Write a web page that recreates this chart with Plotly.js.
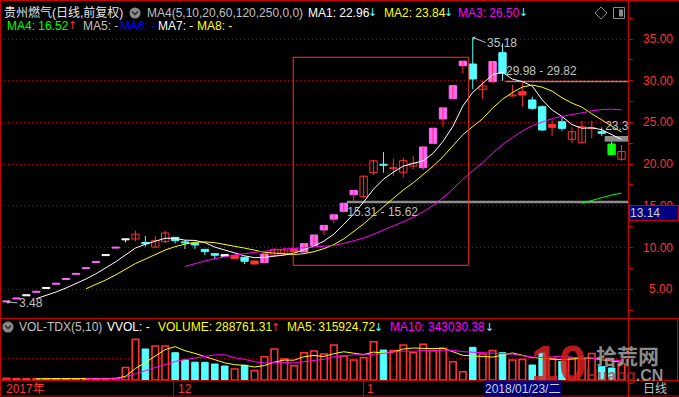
<!DOCTYPE html>
<html><head><meta charset="utf-8">
<script src="https://cdn.plot.ly/plotly-3.0.1.min.js"></script>
<style>html,body{margin:0;padding:0;background:#000;overflow:hidden}</style>
</head><body><div id="chart" style="width:679px;height:397px"></div>
<script>
// ---------------- data ----------------
const openP  = [3.48,3.83,4.21,4.63,5.09,5.60,6.16,6.78,7.46,8.21,9.03,9.93,10.92,11.02,10.60,10.05,10.70,11.22,10.62,10.50,9.78,9.26,9.14,8.66,8.83,8.02,8.18,9.06,9.22,9.78,9.46,10.26,12.10,13.40,14.34,16.33,16.09,18.97,19.98,19.45,19.02,19.77,19.57,22.49,25.41,27.84,31.80,32.00,28.97,29.88,33.36,28.17,28.28,27.69,26.88,24.41,25.08,22.97,22.56,24.25,23.88,22.41,20.58];
const highP  = [3.48,3.83,4.21,4.63,5.09,5.60,6.16,6.78,7.46,8.21,9.03,9.93,10.92,12.01,11.38,11.38,12.00,11.22,10.90,10.50,9.80,9.26,9.14,9.07,8.83,8.45,9.22,9.90,9.90,9.80,10.46,11.50,12.65,13.92,15.31,16.84,18.61,20.45,21.45,20.65,20.73,20.97,22.17,24.30,26.74,29.41,32.35,35.18,30.00,32.35,34.48,29.50,29.80,28.08,27.05,25.29,25.77,24.41,25.20,25.20,24.41,22.69,22.29];
const lowP   = [3.48,3.83,4.21,4.63,5.09,5.60,6.16,6.78,7.46,8.21,9.03,9.93,10.62,10.75,10.10,10.03,10.50,10.50,9.82,9.82,9.10,8.58,8.95,8.66,8.02,8.00,8.18,8.90,9.10,9.38,9.46,10.26,11.53,12.97,14.17,15.62,15.94,18.69,18.97,18.61,18.37,19.41,19.29,22.41,24.48,27.84,30.89,29.00,27.80,29.76,29.98,28.10,26.88,26.49,24.00,23.37,24.00,22.49,22.49,23.09,23.37,21.13,20.41];
const closeP = [3.48,3.83,4.21,4.63,5.09,5.60,6.16,6.78,7.46,8.21,9.03,9.93,10.92,11.60,10.45,10.85,11.74,10.82,10.55,10.30,9.50,9.07,8.96,9.05,8.35,8.38,9.22,9.78,9.70,9.51,10.46,11.50,12.65,13.92,15.31,16.84,18.55,20.40,19.86,19.57,20.41,20.10,22.05,24.30,26.74,29.41,32.35,30.20,29.36,32.30,30.89,28.20,28.68,26.69,24.09,24.77,24.29,23.88,24.48,24.33,23.69,21.13,21.50];
// candle colour kind: p=limit-up pink, w=white, r=red hollow, R=red solid, c=cyan, g=green
const candleKind = ['p','p','w','p','w','p','p','p','p','p','w','p','w','r','c','r','r','c','c','c','c','c','w','R','c','R','p','r','r','R','p','p','p','p','p','p','r','r','c','r','r','r','p','p','p','p','p','c','r','p','c','r','R','c','c','R','c','r','r','r','c','g','r'];
const ma5  = [null,null,null,3.86,4.25,4.67,5.14,5.65,6.22,6.84,7.53,8.28,9.11,9.94,10.39,10.75,11.11,11.09,10.88,10.85,10.58,10.05,9.69,9.39,9.00,8.78,8.81,8.96,9.09,9.32,9.73,10.19,10.76,11.61,12.77,14.04,15.45,17.00,18.19,19.04,19.76,20.07,20.40,21.29,22.72,24.52,26.97,28.60,29.61,30.72,31.02,30.19,29.89,29.35,27.71,26.49,25.70,24.74,24.30,24.35,24.13,23.50,22.96];
const ma10 = [null,null,null,null,null,null,null,null,5.04,5.55,6.10,6.71,7.38,8.08,8.61,9.14,9.70,10.10,10.41,10.62,10.67,10.58,10.39,10.14,9.93,9.68,9.43,9.33,9.24,9.16,9.26,9.50,9.86,10.35,11.04,11.89,12.82,13.88,14.90,15.91,16.90,17.76,18.70,19.74,20.88,22.14,23.52,24.50,25.45,26.72,27.77,28.58,29.24,29.48,29.22,28.75,27.95,27.32,26.83,26.03,25.31,24.60,23.84];
const ma20 = [null,null,null,null,null,null,null,null,null,null,null,null,null,null,null,null,null,null,7.73,8.08,8.38,8.65,8.89,9.11,9.27,9.41,9.56,9.71,9.83,9.89,9.96,10.04,10.13,10.24,10.49,10.79,11.13,11.60,12.07,12.53,13.08,13.63,14.28,15.04,15.96,17.01,18.17,19.19,20.17,21.31,22.34,23.17,23.97,24.61,25.05,25.45,25.73,25.91,26.14,26.38,26.54,26.59,26.50];
const ma60 = [null,null,null,null,null,null,null,null,null,null,null,null,null,null,null,null,null,null,null,null,null,null,null,null,null,null,null,null,null,null,null,null,null,null,null,null,null,null,null,null,null,null,null,null,null,null,null,null,null,null,null,null,null,null,null,null,null,null,15.31,15.66,16.00,16.29,16.52];
const volume = [30000,22000,20000,20000,20000,20000,22000,22000,24000,25000,26000,30000,222000,724000,552000,605000,605000,486000,356000,317000,315000,285000,249000,196000,262000,166000,415000,552000,374000,255000,486000,516000,463000,623000,427000,356000,397000,682000,534000,522000,623000,486000,635000,522000,564000,326000,148000,582000,463000,522000,486000,356000,368000,267000,480000,380000,330000,394000,368000,472000,237000,214000,288761];
const volKind = ['r','r','r','r','r','r','r','r','r','r','r','r','r','r','c','r','r','c','c','c','c','c','c','r','c','r','r','r','r','r','r','r','r','r','r','r','r','r','c','r','r','r','r','r','r','r','r','c','r','r','c','r','r','c','c','r','c','r','r','r','c','c','r'];
const vma5  = [null,null,null,22400,22400,20400,20400,20800,21600,22600,23800,25400,65400,205400,310800,426600,541600,594400,520800,473800,415800,351800,304400,272400,261400,231600,257600,318200,353800,352400,416400,436600,418800,468600,503000,477000,453200,497000,479200,498200,551600,569400,560000,557600,566000,506600,439000,428400,416600,408200,440200,481800,439000,399800,391400,370200,365000,370200,390400,388800,360200,337000,315925];
const vma10 = [null,null,null,null,null,null,null,null,22000,22500,22100,22900,43100,113500,166700,225200,283500,329900,363100,392300,421200,446700,449400,396600,367600,323700,304700,311300,313100,306900,324000,347100,368500,411200,427700,446700,444900,457900,473900,500600,514300,511300,528500,518400,532100,529100,504200,494200,487100,487100,473400,460400,433700,408200,399800,405200,423400,404600,395100,390100,365200,351000,343030];
// price gaps: candle before gap, bound of previous candle, bound of next candle
const gapFrom = [34, 50, 60];
const gapPrev = [15.31, 29.98, 23.37];
const gapNext = [15.62, 29.82, 22.69];
const gapLabelAbove = [false, true, true];
const priceTicks = [5,10,15,20,25,30,35];
const minorTicks = [2.5,7.5,12.5,17.5,22.5,27.5,32.5,37.5];
const volGrid = [386000];

// ---------------- geometry ----------------
const W = 679, H = 397, MR = 51, MB = 17;
const PW = W - MR, PH = H - MB;
const px = x => x / PW;
const py = y => 1 - y / PH;
const XR = [-0.655, 62.65];
const FONT = 'Liberation Sans, Arial, "Noto Sans CJK SC", sans-serif';
const RED = '#ff3232', CYAN = '#54ffff', BORDER = '#c80000';
const idx = closeP.map((_, i) => i);

const kinds = {
  p: {fill: '#ff66ff', line: '#ff66ff', wick: RED},
  w: {fill: '#ffffff', line: '#ffffff', wick: '#ffffff'},
  r: {fill: '#000000', line: RED, wick: RED},
  R: {fill: RED, line: RED, wick: RED},
  c: {fill: CYAN, line: CYAN, wick: CYAN},
  g: {fill: '#00ff00', line: '#00ff00', wick: CYAN}
};

const traces = [];
// wicks
const wickGroups = {};
idx.forEach(i => {
  const c = kinds[candleKind[i]].wick;
  (wickGroups[c] = wickGroups[c] || {x: [], y: []});
  wickGroups[c].x.push(i, i, null);
  wickGroups[c].y.push(highP[i], lowP[i], null);
});
Object.keys(wickGroups).forEach(c => traces.push({type: 'scatter', mode: 'lines', x: wickGroups[c].x, y: wickGroups[c].y,
  line: {color: c, width: 1}, hoverinfo: 'skip', xaxis: 'x', yaxis: 'y'}));
// bodies
Object.keys(kinds).forEach(k => {
  const xs = [], bs = [], hs = [];
  idx.forEach(i => {
    if (candleKind[i] !== k) return;
    const lo = Math.min(openP[i], closeP[i]);
    const hgt = Math.max(Math.abs(closeP[i] - openP[i]), 0.12);
    xs.push(i); bs.push(lo); hs.push(hgt);
  });
  if (!xs.length) return;
  traces.push({type: 'bar', x: xs, y: hs, base: bs, width: 0.74, xaxis: 'x', yaxis: 'y',
    marker: {color: kinds[k].fill, line: {color: kinds[k].line, width: 1}}, hoverinfo: 'skip'});
});
// moving averages
[[ma5, '#ffffff'], [ma10, '#ffff00'], [ma20, '#ff00ff'], [ma60, '#00ff00']].forEach(([a, c]) =>
  traces.push({type: 'scatter', mode: 'lines', x: idx, y: a, line: {color: c, width: 1}, connectgaps: false, hoverinfo: 'skip', xaxis: 'x', yaxis: 'y'}));
// gap labels (clipped to the plot)
traces.push({type: 'scatter', mode: 'text', xaxis: 'x', yaxis: 'y', hoverinfo: 'skip', cliponaxis: true,
  x: gapFrom.map(g => g + 0.35),
  y: gapFrom.map((g, i) => gapLabelAbove[i] ? Math.max(gapPrev[i], gapNext[i]) + 1.1 : Math.min(gapPrev[i], gapNext[i]) - 1.2),
  text: gapFrom.map((g, i) => gapPrev[i].toFixed(2) + ' - ' + gapNext[i].toFixed(2)),
  textposition: 'middle right', textfont: {family: FONT, size: 12, color: '#c0c0c0'}});
// volume bars
[['r', '#000000', RED, 1.6], ['c', CYAN, CYAN, 1]].forEach(([k, fill, ln, lw]) => {
  const xs = [], ys = [];
  idx.forEach(i => { if (volKind[i] === k) { xs.push(i); ys.push(volume[i]); } });
  traces.push({type: 'bar', x: xs, y: ys, width: 0.66, xaxis: 'x', yaxis: 'y2',
    marker: {color: fill, line: {color: ln, width: lw}}, hoverinfo: 'skip'});
});
[[vma5, '#ffff00'], [vma10, '#ff00ff']].forEach(([a, c]) =>
  traces.push({type: 'scatter', mode: 'lines', x: idx, y: a, line: {color: c, width: 1}, hoverinfo: 'skip', xaxis: 'x', yaxis: 'y2'}));

// ---------------- shapes ----------------
const L = (x0, y0, x1, y1, color, w) => ({type: 'line', xref: 'paper', yref: 'paper', x0: px(x0), y0: py(y0), x1: px(x1), y1: py(y1), line: {color: color || BORDER, width: w || 1}, layer: 'above'});
const shapes = [
  L(0.5, 0, 0.5, 396), L(628.5, 0, 628.5, 397), L(0, 0.5, 679, 0.5),
  L(0, 318.5, 679, 318.5), L(0, 380.5, 679, 380.5), L(0, 396, 679, 396),
  L(677.5, 318.5, 677.5, 380.5), L(173.5, 380.5, 173.5, 396), L(363.5, 380.5, 363.5, 396),
  {type: 'rect', xref: 'x', yref: 'y', x0: 28.9, x1: 46.6, y0: 7.87, y1: 32.81, line: {color: RED, width: 1}, fillcolor: 'rgba(0,0,0,0)', layer: 'above'}
];
gapFrom.forEach((g, i) => shapes.push({type: 'rect', xref: 'x', yref: 'y', x0: g + 0.3, x1: XR[1],
  y0: Math.min(gapPrev[i], gapNext[i]), y1: Math.max(gapPrev[i], gapNext[i]), fillcolor: '#8c8c8c', line: {width: 0}, layer: 'between'}));
// icons
const P = pts => pts.map((p, j) => (j ? 'L' : 'M') + px(p[0]) + ',' + py(p[1])).join(' ');
[[135, 13], [8, 327]].forEach(([cx, cy]) => {
  shapes.push({type: 'circle', xref: 'paper', yref: 'paper', x0: px(cx - 5.5), x1: px(cx + 5.5), y0: py(cy - 5.5), y1: py(cy + 5.5), fillcolor: '#8a8a8a', line: {width: 0}, layer: 'above'});
  shapes.push({type: 'path', xref: 'paper', yref: 'paper', path: P([[cx - 3, cy - 1.5], [cx, cy + 1.5], [cx + 3, cy - 1.5]]), line: {color: '#2a2a2a', width: 1.5}, layer: 'above'});
});
shapes.push({type: 'path', xref: 'paper', yref: 'paper', path: P([[595, 13], [601, 7], [607, 13], [601, 19]]) + ' Z', line: {color: '#8a8a8a', width: 1}, layer: 'above'});
shapes.push({type: 'rect', xref: 'paper', yref: 'paper', x0: px(613.5), x1: px(624.5), y0: py(7.5), y1: py(18.5), line: {color: '#8a8a8a', width: 1}, fillcolor: 'rgba(0,0,0,0)', layer: 'above'});
shapes.push({type: 'rect', xref: 'paper', yref: 'paper', x0: px(619), x1: px(623), y0: py(9.5), y1: py(16.5), line: {width: 0}, fillcolor: '#8a8a8a', layer: 'above'});

// ---------------- annotations ----------------
const T = (x, y, text, color, o) => Object.assign({xref: 'paper', yref: 'paper', x: px(x), y: py(y), xanchor: 'left', yanchor: 'middle',
  text, showarrow: false, borderpad: 0, font: {family: FONT, size: 12, color}}, o || {});
const ARW = {family: 'DejaVu Sans', size: 11};
const ann = [
  T(3, 12.5, '贵州燃气(日线,前复权)', '#e6e6e6'),
  T(146, 12.5, 'MA4(5,10,20,60,120,250,0,0)', '#c0c0c0'),
  T(307, 12.5, 'MA1: 22.96', '#ffffff'), T(367, 12.5, '↓', CYAN, {font: Object.assign({color: CYAN}, ARW)}),
  T(383, 12.5, 'MA2: 23.84', '#ffff00'), T(443, 12.5, '↓', CYAN, {font: Object.assign({color: CYAN}, ARW)}),
  T(457, 12.5, 'MA3: 26.50', '#ff00ff'), T(518, 12.5, '↓', CYAN, {font: Object.assign({color: CYAN}, ARW)}),
  T(6, 25.5, 'MA4: 16.52', '#00ff00'), T(67, 25.5, '↑', RED, {font: Object.assign({color: RED}, ARW)}),
  T(82, 25.5, 'MA5: -', '#c0c0c0'), T(119, 25.5, 'MA6: -', '#0000ff'),
  T(157, 25.5, 'MA7: -', '#ffffff'), T(196, 25.5, 'MA8: -', '#ffff00'),
  T(18, 327, 'VOL-TDX(5,10)', '#c0c0c0'), T(106, 327, 'VVOL: -', '#ffffff'),
  T(157, 327, 'VOLUME: 288761.31', '#ffff00'), T(270, 327, '↑', RED, {font: Object.assign({color: RED}, ARW)}),
  T(286, 327, 'MA5: 315924.72', '#ffff00'), T(373, 327, '↓', CYAN, {font: Object.assign({color: CYAN}, ARW)}),
  T(389, 327, 'MA10: 343030.38', '#ff00ff'), T(484, 327, '↓', CYAN, {font: Object.assign({color: CYAN}, ARW)}),
  T(5, 388.5, '2017年', RED), T(177, 388.5, '12', RED), T(366, 388.5, '1', RED),
  T(642, 388.5, '日线', '#c0c0c0'),
  // extreme markers
  {xref: 'x', yref: 'y', x: 47, y: highP[47], text: highP[47].toFixed(2), showarrow: true, arrowhead: 1, arrowsize: 0.7, arrowwidth: 1,
   arrowcolor: '#c0c0c0', ax: 13, ay: 5, xanchor: 'left', yanchor: 'middle', borderpad: 0, font: {family: FONT, size: 12, color: '#c0c0c0'}},
  {xref: 'x', yref: 'y', x: 0, y: lowP[0], text: lowP[0].toFixed(2), showarrow: true, arrowhead: 1, arrowsize: 0.7, arrowwidth: 1,
   arrowcolor: '#c0c0c0', ax: 11, ay: 1, xanchor: 'left', yanchor: 'middle', borderpad: 0, font: {family: FONT, size: 12, color: '#c0c0c0'}},
  // watermark
  T(559, 364, '<b>10</b>', 'rgba(215,30,30,0.85)', {xanchor: 'center', font: {family: FONT, size: 50, color: 'rgba(215,30,30,0.85)'}}),
  T(627, 355, '<b>拾荒网</b>', 'rgba(165,165,165,0.85)', {xanchor: 'center', font: {family: '"Noto Sans CJK SC"', size: 21, color: 'rgba(165,165,165,0.85)'}}),
  T(624, 375, '<b><span style="color:rgba(205,40,40,0.85)">Huang</span>.CN</b>', 'rgba(170,170,170,0.85)', {xanchor: 'center', font: {family: FONT, size: 16, color: 'rgba(170,170,170,0.85)'}})
];
priceTicks.slice().reverse().forEach(v => ann.push({xref: 'paper', yref: 'y', x: px(674), y: v, xanchor: 'right', yanchor: 'middle',
  text: v.toFixed(2), showarrow: false, borderpad: 0, font: {family: FONT, size: 12, color: RED}}));
ann.push(T(628.5, 213.3, '13.14', '#d0d0d0', {width: 48, height: 14, align: 'left', bgcolor: '#000080', bordercolor: BORDER, borderwidth: 1}));
ann.push(T(483.5, 388.3, '2018/01/23/二', '#d0d0d0', {width: 76, height: 15, align: 'left', bgcolor: '#000080'}));

const layout = {
  width: W, height: H, margin: {l: 0, r: MR, t: 0, b: MB, pad: 0},
  paper_bgcolor: '#000', plot_bgcolor: '#000', showlegend: false, barmode: 'overlay',
  font: {family: FONT, size: 12, color: '#c0c0c0'},
  xaxis: {range: XR, showgrid: false, zeroline: false, showticklabels: false, ticks: '', showline: false, fixedrange: true, anchor: 'y2'},
  yaxis: {domain: [py(318.5), 1], range: [1.487, 39.676], side: 'right', anchor: 'x', tickvals: priceTicks, ticks: 'outside', ticklen: 4,
    tickcolor: BORDER, showticklabels: false, showgrid: true, gridcolor: '#b00000', griddash: '1px,3px', gridwidth: 1, zeroline: false,
    minor: {tickvals: minorTicks, ticks: 'outside', ticklen: 4, tickcolor: BORDER, showgrid: false}, fixedrange: true},
  yaxis2: {domain: [0, py(333)], range: [0, 836600], side: 'right', anchor: 'x', tickvals: volGrid, ticks: '', showticklabels: false,
    showgrid: true, gridcolor: '#b00000', griddash: '1px,3px', zeroline: false, fixedrange: true},
  shapes, annotations: ann
};
Plotly.newPlot('chart', traces, layout, {staticPlot: true, displayModeBar: false});
</script></body></html>
